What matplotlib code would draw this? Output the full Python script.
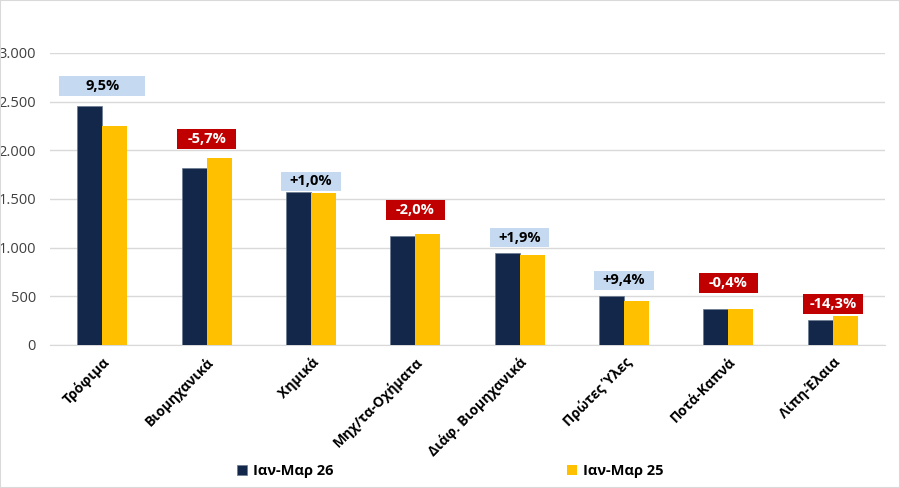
import matplotlib
matplotlib.use("Agg")
import matplotlib.pyplot as plt
from matplotlib.patches import Rectangle
from matplotlib.ticker import FuncFormatter
import numpy as np

categories = ["Τρόφιμα", "Βιομηχανικά", "Χημικά", "Μηχ/τα-Οχήματα",
              "Διάφ. Βιομηχανικά", "Πρώτες Ύλες", "Ποτά-Καπνά", "Λίπη-Έλαια"]
series_26 = [2460, 1815, 1572, 1117, 942, 500, 367, 254]
series_25 = [2247, 1925, 1557, 1137, 925, 457, 368, 297]
changes = ["9,5%", "-5,7%", "+1,0%", "-2,0%", "+1,9%", "+9,4%", "-0,4%", "-14,3%"]
label_offsets = [200, 192, 108, 250, 162, 163, 269, 123]
legend_labels = ["Ιαν-Μαρ 26", "Ιαν-Μαρ 25"]

plt.rcParams['font.family'] = ['Open Sans', 'DejaVu Sans']

dark = "#13274a"
yellow = "#ffc000"
pos_box = "#c5d9f1"
neg_box = "#c00000"

fig = plt.figure(figsize=(9, 4.88), dpi=100)
ax = fig.add_axes([50/900, 1-345/488, 835/900, 292/488])

x = np.arange(len(categories))
w = 0.24
b1 = ax.bar(x - w/2, series_26, w, color=dark, edgecolor="#6b7a90", linewidth=0.5, label=legend_labels[0], zorder=3)
b2 = ax.bar(x + w/2, series_25, w, color=yellow, label=legend_labels[1], zorder=3)

ax.set_xlim(-0.5, len(categories) - 0.5)
ax.set_ylim(0, 3000)
ax.set_yticks(np.arange(0, 3001, 500))
ax.yaxis.set_major_formatter(FuncFormatter(lambda v, p: f"{int(v):,}".replace(",", ".")))
ax.grid(axis="y", color="#d9d9d9", linewidth=1, zorder=0)
for s in ["top", "right", "left"]:
    ax.spines[s].set_visible(False)
ax.spines["bottom"].set_color("#d9d9d9")
ax.tick_params(axis="y", length=0, labelsize=10.5, labelcolor="#404040", pad=10)
ax.tick_params(axis="x", length=0, pad=7)
ax.set_xticks(x)
ax.set_xticklabels(categories, rotation=45, ha="right", rotation_mode="anchor",
                   fontsize=10, fontweight="bold")

box_h = 200
for i, (c, a, b, off) in enumerate(zip(changes, series_26, series_25, label_offsets)):
    yc = max(a, b) + off
    neg = c.startswith("-")
    bw = 0.82 if i == 0 else 0.57
    ax.add_patch(Rectangle((i - bw/2, yc - box_h/2), bw, box_h,
                           facecolor=neg_box if neg else pos_box, edgecolor="none",
                           zorder=4, clip_on=False))
    ax.text(i, yc, c, ha="center", va="center", fontsize=10.5, fontweight="bold",
            color="white" if neg else "black", zorder=5)

leg = fig.legend(handles=[b1, b2], labels=legend_labels, loc="center",
                 bbox_to_anchor=(0.5, 1-471/488), ncol=2, frameon=False,
                 columnspacing=16, handlelength=0.7, handleheight=0.7,
                 handletextpad=0.4, prop={"weight": "bold", "size": 10.5})

fig.patches.append(Rectangle((0, 0), 1, 1, transform=fig.transFigure,
                             fill=False, edgecolor="#d9d9d9", linewidth=1.5))
fig.savefig("out.png", dpi=100)
